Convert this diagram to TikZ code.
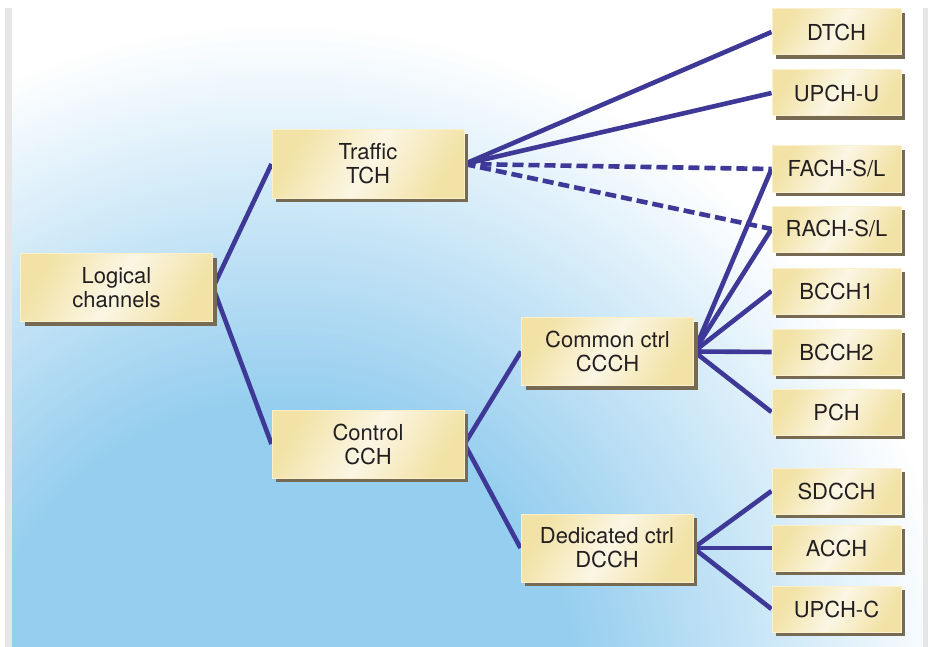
\documentclass[tikz,border=0pt]{standalone}
\usepackage{fontspec}
\setmainfont{TeX Gyre Heros}
\usetikzlibrary{positioning,shadows,backgrounds}

\definecolor{bgblue}{RGB}{150,206,239}
\definecolor{linkblue}{RGB}{62,57,150}
\definecolor{boxdark}{RGB}{242,226,165}
\definecolor{boxlight}{RGB}{251,246,228}
\definecolor{boxedge}{RGB}{250,240,205}
\definecolor{boxshadow}{RGB}{118,106,82}
\definecolor{framegray}{RGB}{230,230,230}
\definecolor{inkblack}{RGB}{35,31,32}

\begin{document}
\begin{tikzpicture}[x=1pt,y=-1pt,node distance=60pt,on grid]
       \tikzstyle{chan}=[rectangle, inner sep=0pt, align=center, text=inkblack,
         font=\fontsize{22}{24}\selectfont,
         left color=boxdark, right color=boxdark, middle color=boxlight, shading angle=60,
         draw=boxedge, line width=1pt,
         drop shadow={shadow xshift=4pt, shadow yshift=-4pt, fill=boxshadow, opacity=1}]
       \tikzstyle{mid}=[chan, minimum width=192pt, minimum height=68pt]
       \tikzstyle{ctrl}=[chan, minimum width=172pt, minimum height=68pt]
       \tikzstyle{leaf}=[chan, minimum width=129pt, minimum height=46pt]
       \tikzstyle{link}=[color=linkblue, line width=4.6pt]

       \useasboundingbox (0,0) rectangle (928,647);

       \node[mid] (logic) at (116.5,287.5) {Logical\\channels};
       \node[mid] (tch) [above right=123.5pt and 251.5pt of logic] {Traffic\\TCH};
       \node[mid] (cch) [below right=156.5pt and 251.5pt of logic] {Control\\CCH};
       \node[ctrl] (ccch) [above right=92.5pt and 239.5pt of cch] {Common ctrl\\CCCH};
       \node[ctrl] (dcch) [below right=104pt and 239pt of cch] {Dedicated ctrl\\DCCH};

       % right column
       \node[leaf] (dtch) at (836.5,32) {DTCH};
       \node[leaf] (upchu) [below=61pt of dtch] {UPCH-U};
       \node[leaf] (fach) [below=76pt of upchu] {FACH-S/L};
       \node[leaf] (rach) [below=60pt of fach] {RACH-S/L};
       \node[leaf] (bcchone) [below=62pt of rach] {BCCH1};
       \node[leaf] (bcchtwo) [below=61pt of bcchone] {BCCH2};
       \node[leaf] (pch) [below=60pt of bcchtwo] {PCH};
       \node[leaf] (sdcch) [below=79pt of pch] {SDCCH};
       \node[leaf] (acch) [below=57pt of sdcch] {ACCH};
       \node[leaf] (upchc) [below=61pt of acch] {UPCH-C};

       \begin{pgfonlayer}{background}
         \fill[white] (12,8) rectangle (923,647);
         \begin{scope}
           \clip (12,8) rectangle (923,647);
           % soft blue glow, ring by ring
           \foreach \i in {0,...,76} {
             \pgfmathsetmacro{\pct}{100*\i/76}
             \fill[bgblue!\pct!white] (280,700) circle [radius=680-5*\i];
           }
         \end{scope}
         \fill[framegray] (5,8) rectangle (12,647);
         \fill[framegray] (923,8) rectangle (928,647);

         \path[link]
         (logic.east) edge (tch.west) edge (cch.west)
         (tch.east) edge (dtch.west) edge (upchu.west)
         (cch.east) edge (ccch.west) edge (dcch.west)
         (ccch.east) edge (fach.west) edge (rach.west) edge (bcchone.west)
                     edge (bcchtwo.west) edge (pch.west)
         (dcch.east) edge (sdcch.west) edge (acch.west) edge (upchc.west);
         \path[link, dash pattern=on 11pt off 5pt]
         (tch.east) edge (fach.west) edge (rach.west);
       \end{pgfonlayer}
     \end{tikzpicture}
\end{document}
